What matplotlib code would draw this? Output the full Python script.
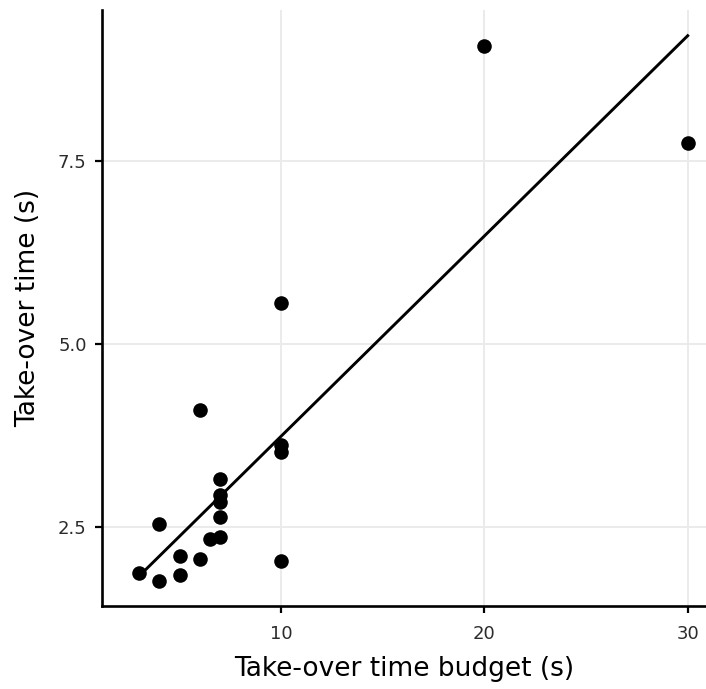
import numpy as np
import matplotlib
matplotlib.use("Agg")
from matplotlib import pyplot as plt

budget = [3, 4, 4, 5, 5, 6, 6, 6.5, 7, 7, 7, 7, 7, 10, 10, 10, 10, 20, 30]
takeover = [1.87, 1.76, 2.54, 2.10, 1.85, 4.10, 2.06, 2.33, 3.15, 2.94, 2.84,
            2.64, 2.36, 5.56, 3.62, 3.52, 2.04, 9.07, 7.75]
x_ticks = [10, 20, 30]
y_ticks = [2.5, 5.0, 7.5]

plt.rcParams['font.family'] = ['DejaVu Sans']

fig = plt.figure(figsize=(7.06, 6.89), dpi=100)
ax = fig.add_axes([102 / 706, 1 - 606 / 689, 604 / 706, 596 / 689])

# linear fit
slope, icept = np.polyfit(budget, takeover, 1)
xs = np.array([min(budget), max(budget)])
ax.plot(xs, icept + slope * xs, color='black', lw=2.1, zorder=3)
ax.scatter(budget, takeover, s=110, color='black', zorder=4, linewidths=0)

ax.set_xlim(1.18, 30.9)
ax.set_ylim(1.42, 9.56)
ax.set_xticks(x_ticks)
ax.set_yticks(y_ticks)
ax.set_yticklabels(['2.5', '5.0', '7.5'])
ax.grid(True, color='#ebebeb', lw=1.4, zorder=0)
ax.set_axisbelow(True)

for s in ['top', 'right']:
    ax.spines[s].set_visible(False)
for s in ['left', 'bottom']:
    ax.spines[s].set_linewidth(1.9)
ax.tick_params(length=5, width=1.6, labelsize=13, labelcolor='#2b2b2b')
ax.tick_params(axis='x', pad=9)
ax.tick_params(axis='y', pad=6)

ax.set_xlabel('Take-over time budget (s)', fontsize=19, labelpad=9)
ax.set_ylabel('Take-over time (s)', fontsize=19, labelpad=12)

fig.savefig('out.png', dpi=100)
